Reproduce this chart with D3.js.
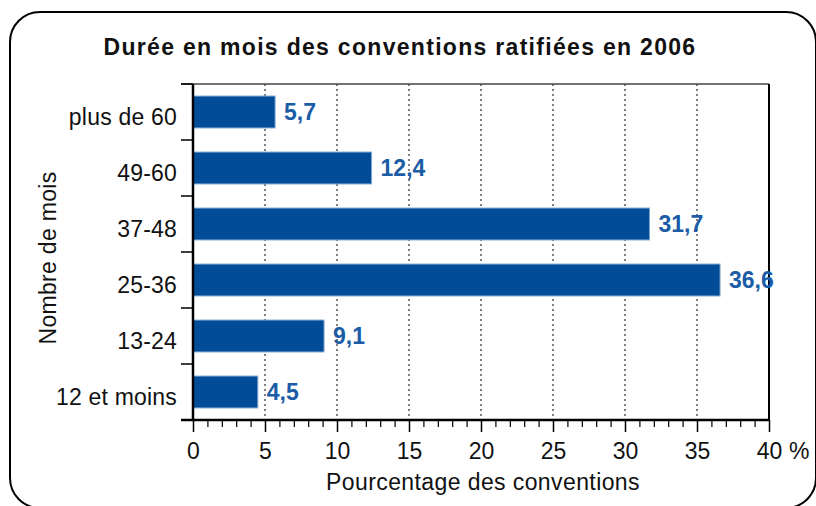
<!DOCTYPE html>
<html>
<head>
<meta charset="utf-8">
<script src="https://cdn.jsdelivr.net/npm/d3@7"></script>
<style>
  body { margin: 0; background: #fff; }
  svg { font-family: "Liberation Sans", Arial, sans-serif; }
</style>
</head>
<body>
<svg id="chart" width="816" height="506"></svg>
<script>
// donnees
const categories = ["plus de 60", "49-60", "37-48", "25-36", "13-24", "12 et moins"];
const values = [5.7, 12.4, 31.7, 36.6, 9.1, 4.5];
const valueLabels = ["5,7", "12,4", "31,7", "36,6", "9,1", "4,5"];
const xTicks = [0, 5, 10, 15, 20, 25, 30, 35, 40];

const pLeft = 193, pRight = 769, pTop = 84, pBottom = 420;
const fs = "23px";

const svg = d3.select("#chart");

// cadre arrondi
svg.append("rect")
    .attr("x", 10).attr("y", 12)
    .attr("width", 806).attr("height", 496)
    .attr("rx", 30).attr("ry", 30)
    .attr("fill", "none")
    .attr("stroke", "#000")
    .attr("stroke-width", 2);

const x = d3.scaleLinear([0, 40], [pLeft, pRight]);
const y = d3.scaleBand(categories, [pTop, pBottom])
    .paddingInner(0.43)
    .paddingOuter(0.215);

// grille pointillee
svg.append("g")
    .selectAll("line")
    .data(xTicks.filter(d => d > 0 && d < 40))
    .enter()
    .append("line")
    .attr("x1", d => x(d)).attr("x2", d => x(d))
    .attr("y1", pTop).attr("y2", pBottom)
    .attr("stroke", "#000")
    .attr("stroke-width", 1)
    .attr("stroke-dasharray", "2,3");

// bord haut et droit
svg.append("line")
    .attr("x1", 181).attr("x2", pRight)
    .attr("y1", pTop).attr("y2", pTop)
    .attr("stroke", "#444").attr("stroke-width", 1.5);
svg.append("line")
    .attr("x1", pRight).attr("x2", pRight)
    .attr("y1", pTop).attr("y2", pBottom)
    .attr("stroke", "#000").attr("stroke-width", 2);

// barres
svg.selectAll("rect.bar")
    .data(values)
    .enter()
    .append("rect")
    .attr("class", "bar")
    .attr("x", pLeft)
    .attr("y", (d, i) => y(categories[i]))
    .attr("width", d => x(d) - pLeft)
    .attr("height", y.bandwidth())
    .attr("fill", "#004C99")
    .attr("stroke", "#7FA6D0")
    .attr("stroke-width", 1);

// etiquettes de valeur
svg.selectAll("text.val")
    .data(values)
    .enter()
    .append("text")
    .attr("class", "val")
    .attr("x", d => x(d) + 9)
    .attr("y", (d, i) => y(categories[i]) + y.bandwidth() / 2)
    .attr("dy", "0.36em")
    .attr("font-size", fs)
    .attr("font-weight", "bold")
    .attr("fill", "#1A5CA6")
    .text((d, i) => valueLabels[i]);

// axe X : graduations majeures et mineures
const xAxis = svg.append("g")
    .attr("transform", `translate(0,${pBottom})`)
    .call(d3.axisBottom(x).tickValues(xTicks).tickSize(12).tickFormat(d => d));
xAxis.select(".domain").remove();
xAxis.selectAll("line").attr("stroke-width", 1.5);
xAxis.selectAll("text")
    .attr("font-size", fs)
    .attr("font-family", "Liberation Sans, Arial, sans-serif")
    .attr("fill", "#111")
    .attr("y", 39)
    .attr("dy", 0);

svg.append("g")
    .attr("transform", `translate(0,${pBottom})`)
    .call(d3.axisBottom(x).tickValues(d3.range(0, 41).filter(d => d % 5 !== 0)).tickSize(7).tickFormat(""))
    .call(g => g.select(".domain").remove())
    .selectAll("line").attr("stroke-width", 1.2);

svg.append("line")
    .attr("x1", 181).attr("x2", pRight + 1)
    .attr("y1", pBottom).attr("y2", pBottom)
    .attr("stroke", "#000").attr("stroke-width", 2.5);

svg.append("text")
    .attr("x", 789).attr("y", pBottom + 39)
    .attr("font-size", fs)
    .attr("fill", "#111")
    .text("%");

// axe Y
const yEdges = [pTop].concat(categories.map(c => y(c) - y.step() * y.paddingInner() / 2 + y.step()));
svg.append("g")
    .selectAll("line")
    .data(yEdges)
    .enter()
    .append("line")
    .attr("x1", 181).attr("x2", pLeft)
    .attr("y1", d => d).attr("y2", d => d)
    .attr("stroke", "#000").attr("stroke-width", 1.5);

svg.append("line")
    .attr("x1", pLeft).attr("x2", pLeft)
    .attr("y1", pTop).attr("y2", pBottom)
    .attr("stroke", "#000").attr("stroke-width", 2.5);

svg.selectAll("text.cat")
    .data(categories)
    .enter()
    .append("text")
    .attr("class", "cat")
    .attr("x", 177)
    .attr("y", d => y(d) + y.bandwidth() / 2)
    .attr("dy", "0.55em")
    .attr("text-anchor", "end")
    .attr("font-size", fs)
    .attr("letter-spacing", "0.2px")
    .attr("fill", "#111")
    .text(d => d);

// titres
svg.append("text")
    .attr("x", 400).attr("y", 55)
    .attr("text-anchor", "middle")
    .attr("font-size", fs)
    .attr("font-weight", "bold")
    .attr("letter-spacing", "1.3px")
    .attr("fill", "#111")
    .text("Durée en mois des conventions ratifiées en 2006");

svg.append("text")
    .attr("x", 483).attr("y", 490)
    .attr("text-anchor", "middle")
    .attr("font-size", fs)
    .attr("letter-spacing", "0.4px")
    .attr("fill", "#111")
    .text("Pourcentage des conventions");

svg.append("text")
    .attr("transform", "translate(56,258) rotate(-90)")
    .attr("text-anchor", "middle")
    .attr("font-size", fs)
    .attr("letter-spacing", "0.3px")
    .attr("fill", "#111")
    .text("Nombre de mois");
</script>
</body>
</html>
